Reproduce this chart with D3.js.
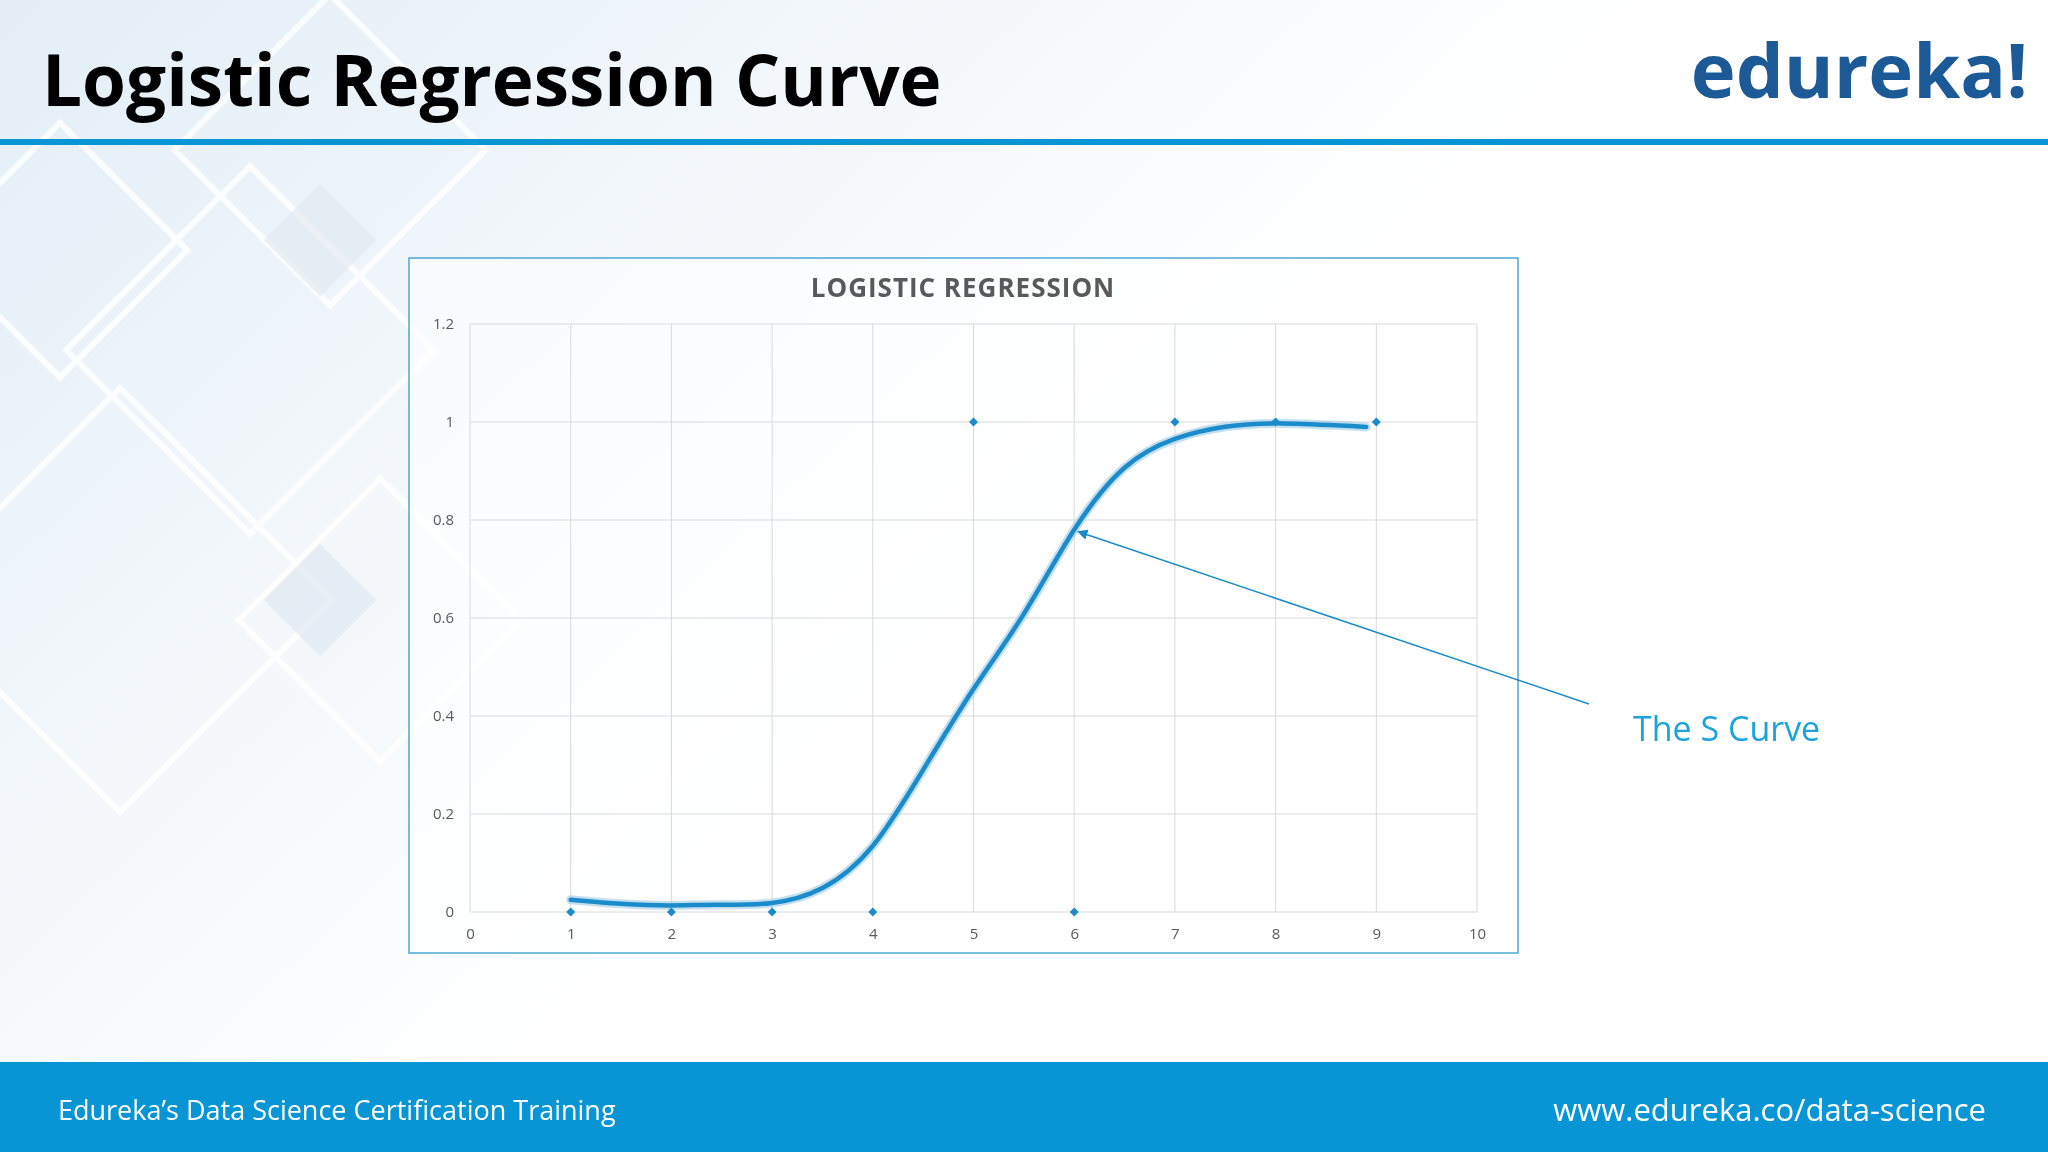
<!DOCTYPE html>
<html>
<head>
<meta charset="utf-8">
<script src="https://cdn.jsdelivr.net/npm/d3@7"></script>
<style>
  body { margin: 0; background: #fff; }
  text { font-family: "Open Sans", "Noto Sans", sans-serif; }
</style>
</head>
<body>
<div class="slide"></div>
<script>
// data
const pointX = [1, 2, 3, 4, 5, 6, 7, 8, 9];
const pointY = [0, 0, 0, 0, 1, 0, 1, 1, 1];
const curveX = [1, 1.5, 2, 2.4, 3, 3.5, 4, 4.5, 5, 5.5, 6, 6.5, 7, 7.5, 8, 8.9];
const curveY = [0.025, 0.016, 0.012, 0.016, 0.013, 0.04, 0.12, 0.29, 0.46, 0.6, 0.79, 0.92, 0.97, 0.993, 1.0, 0.99];
const xTicks = [0, 1, 2, 3, 4, 5, 6, 7, 8, 9, 10];
const yTicks = [0, 0.2, 0.4, 0.6, 0.8, 1, 1.2];

const W = 2048, H = 1152;
const svg = d3.select(".slide").append("svg")
              .attr("width", W)
              .attr("height", H);

// background wash
const defs = svg.append("defs");
const grad = defs.append("linearGradient").attr("id", "bg")
                 .attr("x1", 0).attr("y1", 0).attr("x2", 1).attr("y2", 0.6);
grad.append("stop").attr("offset", "0%").attr("stop-color", "#e3eef6");
grad.append("stop").attr("offset", "35%").attr("stop-color", "#f4f8fb");
grad.append("stop").attr("offset", "60%").attr("stop-color", "#ffffff");
svg.append("rect").attr("width", W).attr("height", H).attr("fill", "url(#bg)");

// faint diagonal squares
const deco = svg.append("g").attr("fill", "none").attr("stroke", "#ffffff").attr("stroke-width", 6).attr("opacity", 0.8);
[[250, 350, 260], [120, 600, 300], [330, 150, 220], [60, 250, 180], [380, 620, 200]].forEach(d => {
  deco.append("rect").attr("x", -d[2] / 2).attr("y", -d[2] / 2)
      .attr("width", d[2]).attr("height", d[2])
      .attr("transform", `translate(${d[0]},${d[1]}) rotate(45)`);
});
svg.append("rect").attr("x", -40).attr("y", -40).attr("width", 80).attr("height", 80)
   .attr("fill", "#dde6ee").attr("opacity", 0.6)
   .attr("transform", "translate(320,600) rotate(45)");
svg.append("rect").attr("x", -40).attr("y", -40).attr("width", 80).attr("height", 80)
   .attr("fill", "#dde6ee").attr("opacity", 0.5)
   .attr("transform", "translate(320,240) rotate(45)");

// header
svg.append("text").text("Logistic Regression Curve")
   .attr("x", 42).attr("y", 106)
   .attr("font-size", 71).attr("font-weight", "bold").attr("fill", "#000");
svg.append("text").text("edureka!")
   .attr("x", 2028).attr("y", 98).attr("text-anchor", "end")
   .attr("font-size", 76).attr("font-weight", "bold").attr("fill", "#1b5a96");
svg.append("rect").attr("x", 0).attr("y", 139).attr("width", W).attr("height", 6).attr("fill", "#0795d6");

// footer
svg.append("rect").attr("x", 0).attr("y", 1062).attr("width", W).attr("height", H - 1062).attr("fill", "#0795d6");
svg.append("text").text("Edureka’s Data Science Certification Training")
   .attr("x", 58).attr("y", 1120).attr("font-size", 27).attr("fill", "#fff");
svg.append("text").text("www.edureka.co/data-science")
   .attr("x", 1986).attr("y", 1121).attr("text-anchor", "end")
   .attr("font-size", 31).attr("fill", "#fff");

// chart frame
svg.append("rect").attr("x", 409).attr("y", 258).attr("width", 1109).attr("height", 695)
   .attr("fill", "#ffffff").attr("fill-opacity", 0.55)
   .attr("stroke", "#4aa8d4").attr("stroke-width", 1.5);
svg.append("text").text("LOGISTIC REGRESSION")
   .attr("x", 963).attr("y", 297).attr("text-anchor", "middle")
   .attr("font-size", 26).attr("font-weight", "bold").attr("fill", "#595959")
   .attr("letter-spacing", 1);

const x = d3.scaleLinear().domain([0, 10]).range([470, 1477]);
const y = d3.scaleLinear().domain([0, 1.2]).range([912, 324]);

// grid
svg.append("g").selectAll("line").data(xTicks).enter().append("line")
   .attr("x1", d => x(d)).attr("x2", d => x(d))
   .attr("y1", y(0)).attr("y2", y(1.2))
   .attr("stroke", "#d9d9d9").attr("stroke-width", 1);
svg.append("g").selectAll("line").data(yTicks).enter().append("line")
   .attr("x1", x(0)).attr("x2", x(10))
   .attr("y1", d => y(d)).attr("y2", d => y(d))
   .attr("stroke", "#d9d9d9").attr("stroke-width", 1);

// axes
const xAxis = svg.append("g").attr("transform", `translate(0,${y(0)})`)
   .call(d3.axisBottom(x).tickValues(xTicks).tickSize(0).tickPadding(16).tickFormat(d3.format("d")));
const yAxis = svg.append("g").attr("transform", `translate(${x(0)},0)`)
   .call(d3.axisLeft(y).tickValues(yTicks).tickSize(0).tickPadding(16).tickFormat(d => String(d)));
[xAxis, yAxis].forEach(a => {
  a.select(".domain").remove();
  a.selectAll("text").attr("font-size", 15).attr("fill", "#595959")
   .attr("font-family", "'Open Sans', sans-serif");
});

// S curve
const line = d3.line().x(d => x(d[0])).y(d => y(d[1])).curve(d3.curveBasis);
const curve = curveX.map((v, i) => [v, curveY[i]]);
svg.append("path").datum(curve).attr("d", line)
   .attr("fill", "none").attr("stroke", "#9cc9e3").attr("stroke-width", 9)
   .attr("stroke-linecap", "round").attr("opacity", 0.6);
svg.append("path").datum(curve).attr("d", line)
   .attr("fill", "none").attr("stroke", "#1a8ccc").attr("stroke-width", 4.5)
   .attr("stroke-linecap", "round");

// points
svg.append("g").selectAll("path").data(pointX).enter().append("path")
   .attr("d", d3.symbol().type(d3.symbolSquare).size(40))
   .attr("transform", (d, i) => `translate(${x(d)},${y(pointY[i])}) rotate(45)`)
   .attr("fill", "#1a8ccc");

// annotation arrow
defs.append("marker").attr("id", "arr").attr("viewBox", "0 0 10 10")
    .attr("refX", 2).attr("refY", 5).attr("markerWidth", 7).attr("markerHeight", 7)
    .attr("orient", "auto-start-reverse")
    .append("path").attr("d", "M0,0 L10,5 L0,10 z").attr("fill", "#1a8ccc");
svg.append("line").attr("x1", 1589).attr("y1", 704).attr("x2", 1085).attr("y2", 534)
   .attr("stroke", "#1a8ccc").attr("stroke-width", 1.5).attr("marker-end", "url(#arr)");
svg.append("text").text("The S Curve")
   .attr("x", 1633).attr("y", 741)
   .attr("font-size", 34).attr("fill", "#1aa3dc");
</script>
</body>
</html>
